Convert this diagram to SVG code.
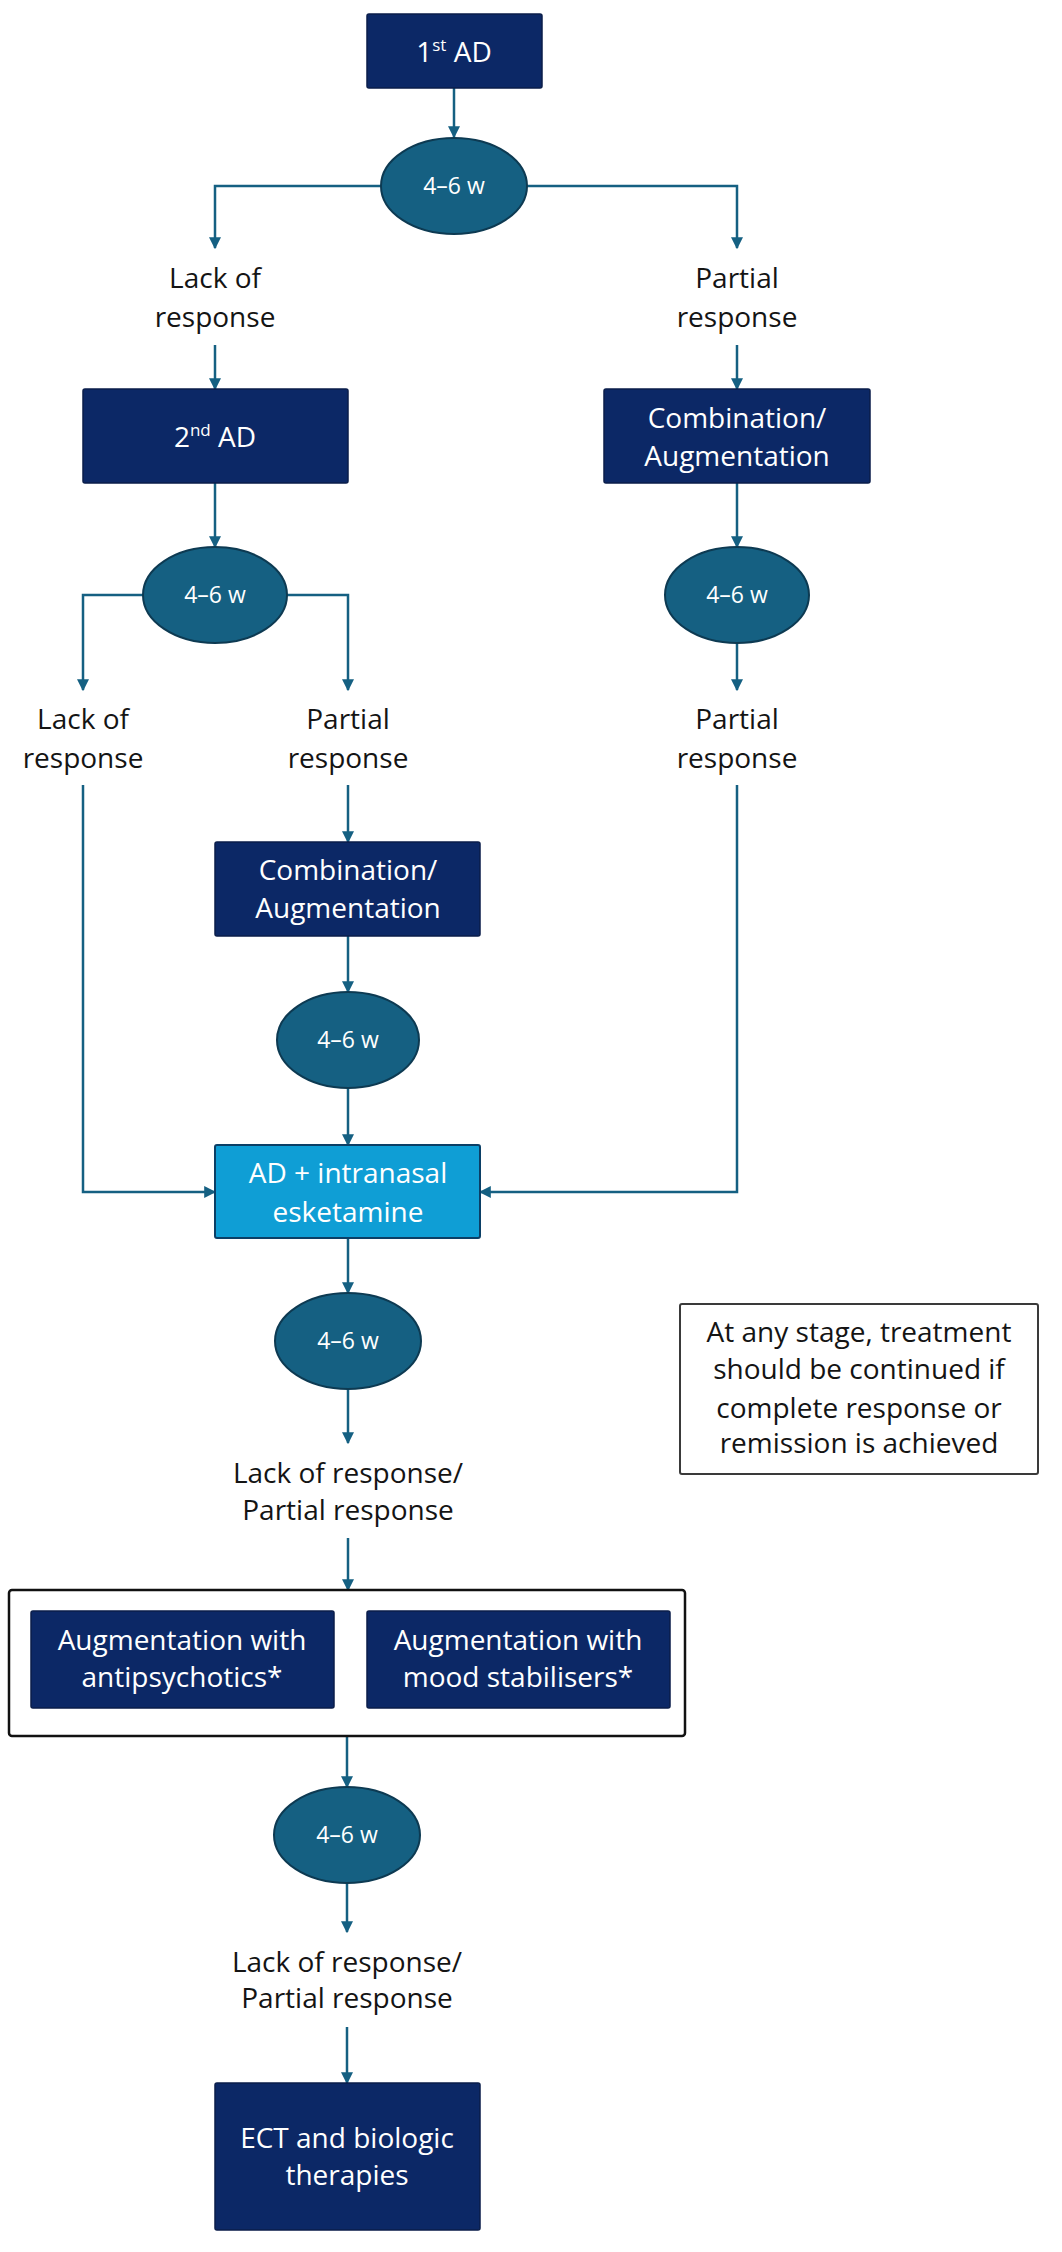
<svg xmlns="http://www.w3.org/2000/svg" width="1062" height="2252" viewBox="0 0 1062 2252">
<style>
.box{fill:#0c2866;stroke:#0a1d4a;stroke-width:1.5}
.lbox{fill:#0f9ed5;stroke:#0b3f66;stroke-width:2}
.ell{fill:#156082;stroke:#0d3a52;stroke-width:2}
.wt{font-family:"Open Sans","Liberation Sans",sans-serif;font-size:28px;fill:#ffffff;text-anchor:middle}
.et{font-family:"Open Sans","Liberation Sans",sans-serif;font-size:23px;fill:#ffffff;text-anchor:middle}
.bt{font-family:"Open Sans","Liberation Sans",sans-serif;font-size:28px;fill:#141414;text-anchor:middle}
.con{fill:none;stroke:#156082;stroke-width:2.5}
.arr{fill:none;stroke:#156082;stroke-width:2.5;marker-end:url(#ah)}
</style>
<defs>
<marker id="ah" viewBox="0 0 10 10" refX="9" refY="5" markerWidth="12" markerHeight="12" markerUnits="userSpaceOnUse" orient="auto">
<path d="M0,0 L10,5 L0,10 z" fill="#156082"/>
</marker>
</defs>
<rect width="1062" height="2252" fill="#ffffff"/>

<g id="connectors">
<path class="arr" d="M454,88 V137"/>
<path class="arr" d="M381,186 H215 V248"/>
<path class="arr" d="M527,186 H737 V248"/>
<path class="arr" d="M215,345 V389"/>
<path class="arr" d="M737,345 V389"/>
<path class="arr" d="M215,483 V547"/>
<path class="arr" d="M737,483 V547"/>
<path class="arr" d="M143,595 H83 V690"/>
<path class="arr" d="M287,595 H348 V690"/>
<path class="arr" d="M737,643 V690"/>
<path class="arr" d="M83,785 V1192 H215"/>
<path class="arr" d="M348,785 V842"/>
<path class="arr" d="M737,785 V1192 H480"/>
<path class="arr" d="M348,936 V992"/>
<path class="arr" d="M348,1088 V1145"/>
<path class="arr" d="M348,1238 V1293"/>
<path class="arr" d="M348,1389 V1443"/>
<path class="arr" d="M348,1538 V1590"/>
<path class="arr" d="M347,1736 V1787"/>
<path class="arr" d="M347,1883 V1932"/>
<path class="arr" d="M347,2027 V2083"/>
</g>

<g id="n-1st-ad">
<rect class="box" x="367" y="14" width="175" height="74" rx="2"/>
<text class="wt" x="454" y="62">1<tspan font-size="17" dy="-11">st</tspan><tspan dy="11"> AD</tspan></text>
</g>

<g id="n-wait-1">
<ellipse class="ell" cx="454" cy="186" rx="73" ry="48"/>
<text class="et" x="454" y="194">4–6 w</text>
</g>

<g id="n-lack-1">
<text class="bt" x="215" y="288">Lack of</text>
<text class="bt" x="215" y="327">response</text>
</g>

<g id="n-partial-1">
<text class="bt" x="737" y="288">Partial</text>
<text class="bt" x="737" y="327">response</text>
</g>

<g id="n-2nd-ad">
<rect class="box" x="83" y="389" width="265" height="94" rx="2"/>
<text class="wt" x="215" y="447">2<tspan font-size="17" dy="-11">nd</tspan><tspan dy="11"> AD</tspan></text>
</g>

<g id="n-comb-right">
<rect class="box" x="604" y="389" width="266" height="94" rx="2"/>
<text class="wt" x="737" y="428">Combination/</text>
<text class="wt" x="737" y="466">Augmentation</text>
</g>

<g id="n-wait-2">
<ellipse class="ell" cx="215" cy="595" rx="72" ry="48"/>
<text class="et" x="215" y="603">4–6 w</text>
</g>

<g id="n-wait-right">
<ellipse class="ell" cx="737" cy="595" rx="72" ry="48"/>
<text class="et" x="737" y="603">4–6 w</text>
</g>

<g id="n-lack-2">
<text class="bt" x="83" y="729">Lack of</text>
<text class="bt" x="83" y="768">response</text>
</g>

<g id="n-partial-2">
<text class="bt" x="348" y="729">Partial</text>
<text class="bt" x="348" y="768">response</text>
</g>

<g id="n-partial-right">
<text class="bt" x="737" y="729">Partial</text>
<text class="bt" x="737" y="768">response</text>
</g>

<g id="n-comb-mid">
<rect class="box" x="215" y="842" width="265" height="94" rx="2"/>
<text class="wt" x="348" y="880">Combination/</text>
<text class="wt" x="348" y="918">Augmentation</text>
</g>

<g id="n-wait-mid">
<ellipse class="ell" cx="348" cy="1040" rx="71" ry="48"/>
<text class="et" x="348" y="1048">4–6 w</text>
</g>

<g id="n-esketamine">
<rect class="lbox" x="215" y="1145" width="265" height="93" rx="2"/>
<text class="wt" x="348" y="1183">AD + intranasal</text>
<text class="wt" x="348" y="1222">esketamine</text>
</g>

<g id="n-wait-3">
<ellipse class="ell" cx="348" cy="1341" rx="73" ry="48"/>
<text class="et" x="348" y="1349">4–6 w</text>
</g>

<g id="n-note">
<rect x="680" y="1304" width="358" height="170" rx="2" fill="#ffffff" stroke="#3a3a3a" stroke-width="2"/>
<text class="bt" x="859" y="1342">At any stage, treatment</text>
<text class="bt" x="859" y="1379">should be continued if</text>
<text class="bt" x="859" y="1418">complete response or</text>
<text class="bt" x="859" y="1453">remission is achieved</text>
</g>

<g id="n-lack-partial-1">
<text class="bt" x="348" y="1483">Lack of response/</text>
<text class="bt" x="348" y="1520">Partial response</text>
</g>

<g id="n-augmentation-group">
<rect x="9" y="1590" width="676" height="146" rx="3" fill="#ffffff" stroke="#111111" stroke-width="2.5"/>
<g id="n-aug-antipsychotics">
<rect class="box" x="31" y="1611" width="303" height="97" rx="2"/>
<text class="wt" x="182" y="1650">Augmentation with</text>
<text class="wt" x="182" y="1687">antipsychotics*</text>
</g>
<g id="n-aug-mood">
<rect class="box" x="367" y="1611" width="303" height="97" rx="2"/>
<text class="wt" x="518" y="1650">Augmentation with</text>
<text class="wt" x="518" y="1687">mood stabilisers*</text>
</g>
</g>

<g id="n-wait-4">
<ellipse class="ell" cx="347" cy="1835" rx="73" ry="48"/>
<text class="et" x="347" y="1843">4–6 w</text>
</g>

<g id="n-lack-partial-2">
<text class="bt" x="347" y="1972">Lack of response/</text>
<text class="bt" x="347" y="2008">Partial response</text>
</g>

<g id="n-ect">
<rect class="box" x="215" y="2083" width="265" height="147" rx="2"/>
<text class="wt" x="347" y="2148">ECT and biologic</text>
<text class="wt" x="347" y="2185">therapies</text>
</g>
</svg>
